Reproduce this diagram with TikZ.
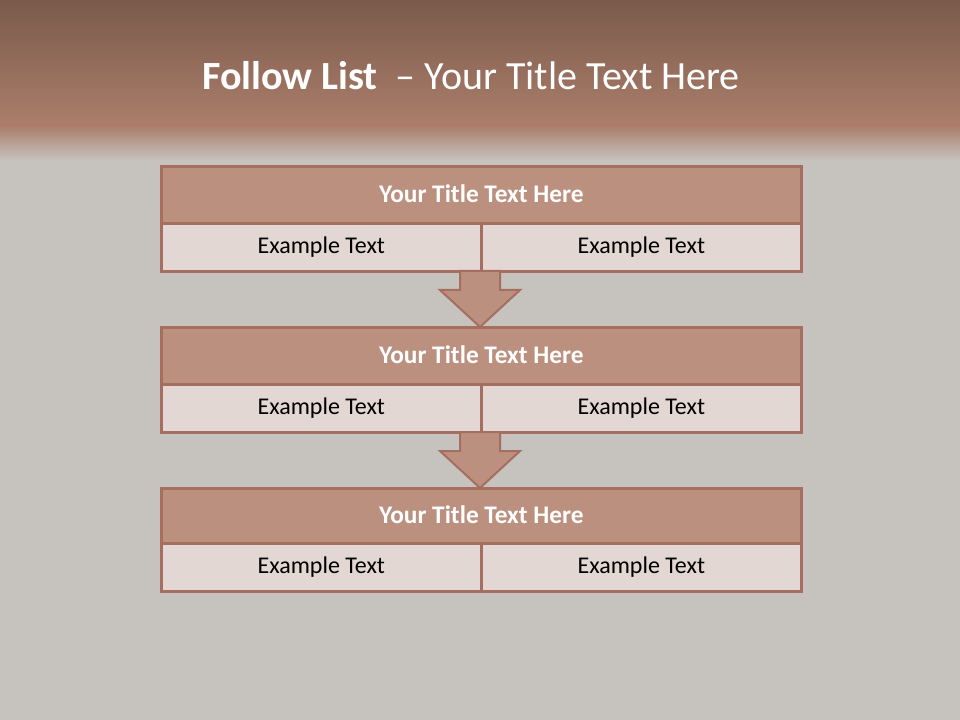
\documentclass[tikz,border=0pt]{standalone}
\usepackage{fontspec}
\setmainfont{Carlito}
\definecolor{hdtop}{HTML}{7B5A4B}
\definecolor{hdbot}{HTML}{AB7E6B}
\definecolor{bggrey}{HTML}{C6C2BE}
\definecolor{titlefill}{HTML}{BC907F}
\definecolor{cellfill}{HTML}{E3D7D4}
\definecolor{edge}{HTML}{A66E5E}
\begin{document}
\begin{tikzpicture}[x=0.75pt,y=-0.75pt,
  titlebox/.style={draw=edge,line width=2pt,fill=titlefill,minimum width=480pt,minimum height=42.75pt,inner sep=0pt,font=\fontsize{19}{22}\selectfont\bfseries,text=white},
  cellbox/.style={draw=edge,line width=2pt,fill=cellfill,minimum width=240pt,minimum height=36pt,inner sep=0pt,font=\fontsize{18}{21}\selectfont,text=black},
  arrowshape/.style={draw=edge,line width=1.5pt,fill=titlefill,line join=miter}]
\useasboundingbox (0,0) rectangle (960,720);
\fill[bggrey] (0,0) rectangle (960,720);
\shade[top color=hdtop,bottom color=hdbot] (0,0) rectangle (960,126);
\shade[top color=hdbot,bottom color=bggrey] (0,126) rectangle (960,160);
\node[anchor=center,text=white,font=\fontsize{30}{34}\selectfont] (title) at (471,76) {\textbf{Follow List}\ \ – Your Title Text Here};
\node[titlebox,anchor=north west] (t1) at (160,165) {\raisebox{1.5pt}{Your Title Text Here}};
\node[cellbox,anchor=north west] (l1) at (160,222) {Example Text};
\node[cellbox,anchor=north west] (r1) at (480,222) {Example Text};
\node[titlebox,anchor=north west] (t2) at (160,326) {\raisebox{1.5pt}{Your Title Text Here}};
\node[cellbox,anchor=north west] (l2) at (160,383) {Example Text};
\node[cellbox,anchor=north west] (r2) at (480,383) {Example Text};
\node[titlebox,anchor=north west,minimum height=41.25pt] (t3) at (160,487) {\raisebox{1.5pt}{Your Title Text Here}};
\node[cellbox,anchor=north west] (l3) at (160,542) {Example Text};
\node[cellbox,anchor=north west] (r3) at (480,542) {Example Text};
\draw[arrowshape] (460,271) -- (500,271) -- (500,290) -- (520,290) -- (480,327) -- (440,290) -- (460,290) -- cycle;
\draw[arrowshape] (460,432) -- (500,432) -- (500,451) -- (520,451) -- (480,488) -- (440,451) -- (460,451) -- cycle;
\end{tikzpicture}
\end{document}
